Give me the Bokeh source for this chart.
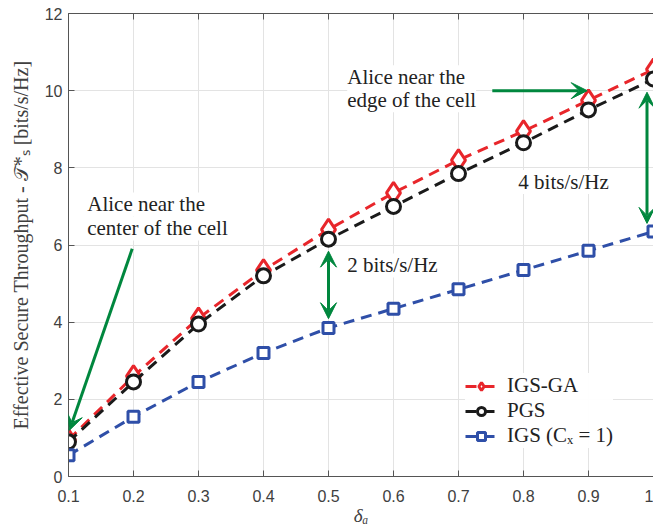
from bokeh.plotting import figure
from bokeh.models import (FixedTicker, LinearAxis, Arrow, VeeHead, Label, Legend,
                          LegendItem, Range1d, CustomJSTickFormatter)
from bokeh.embed import file_html
from bokeh.resources import INLINE

# ---- data ----
delta_a = [0.1, 0.2, 0.3, 0.4, 0.5, 0.6, 0.7, 0.8, 0.9, 1.0]
igs_ga = [0.95, 2.6, 4.1, 5.35, 6.4, 7.35, 8.2, 8.95, 9.75, 10.55]
pgs = [0.9, 2.45, 3.95, 5.2, 6.15, 7.0, 7.85, 8.65, 9.5, 10.3]
igs_cx1 = [0.55, 1.55, 2.45, 3.2, 3.85, 4.35, 4.85, 5.35, 5.85, 6.35]
series_names = ["IGS-GA", "PGS", "IGS (Cₓ = 1)"]

x_ticks = [0.1, 0.2, 0.3, 0.4, 0.5, 0.6, 0.7, 0.8, 0.9, 1.0]
x_tick_labels = ["0.1", "0.2", "0.3", "0.4", "0.5", "0.6", "0.7", "0.8", "0.9", "1"]
y_ticks = [0, 2, 4, 6, 8, 10, 12]
y_tick_labels = ["0", "2", "4", "6", "8", "10", "12"]

# annotations (data coordinates)
center_arrow = dict(x_start=0.198, y_start=5.9, x_end=0.1015, y_end=1.2)
edge_arrow = dict(x_start=0.752, y_start=10.0, x_end=0.898, y_end=10.0)
gap2_arrow = dict(x_start=0.5, y_start=5.84, x_end=0.5, y_end=4.09)
gap4_arrow = dict(x_start=0.99, y_start=9.96, x_end=0.99, y_end=6.56)

RED = "#e8262b"
BLACK = "#1a1a1a"
BLUE = "#2f4fa8"
GREEN = "#00873e"
SERIF = "Liberation Serif"
SANS = "Liberation Sans"

p = figure(width=653, height=532, x_range=Range1d(0.1, 1.0), y_range=Range1d(0, 12),
           output_backend="svg", toolbar_location=None,
           min_border_left=68, min_border_right=0, min_border_top=13, min_border_bottom=56)
p.outline_line_color = None
p.background_fill_color = "white"
p.border_fill_color = "white"

# axes
for ax in (p.xaxis[0], p.yaxis[0]):
    ax.major_tick_in = 6
    ax.major_tick_out = 0
    ax.minor_tick_in = 0
    ax.minor_tick_out = 0
    ax.axis_line_color = "#555555"
    ax.major_tick_line_color = "#555555"
    ax.major_label_text_font = SANS
    ax.major_label_text_font_size = "16px"
    ax.major_label_text_color = "#404040"
    ax.axis_label_text_font = SERIF
    ax.axis_label_text_font_style = "normal"
    ax.axis_label_text_color = "#404040"

p.xaxis.ticker = FixedTicker(ticks=x_ticks)
p.xaxis.major_label_overrides = {t: l for t, l in zip(x_ticks, x_tick_labels)}
p.yaxis.ticker = FixedTicker(ticks=y_ticks)
p.yaxis.major_label_overrides = {t: l for t, l in zip(y_ticks, y_tick_labels)}
p.xaxis.major_label_standoff = 13
p.yaxis.major_label_standoff = 6
p.xaxis.axis_label = "δₐ"
p.xaxis.axis_label_text_font_size = "19px"
p.xaxis.axis_label_text_font_style = "italic"
p.xaxis.axis_label_standoff = 0
p.yaxis.axis_label = "Effective Secure Throughput - 𝒯*ₛ [bits/s/Hz]"
p.yaxis.axis_label_text_font_size = "20px"
p.yaxis.axis_label_standoff = 10

top = LinearAxis(ticker=FixedTicker(ticks=x_ticks),
                 formatter=CustomJSTickFormatter(code="return ''"),
                 major_tick_in=6, major_tick_out=0, minor_tick_in=0, minor_tick_out=0,
                 axis_line_color="#555555", major_tick_line_color="#555555",
                 major_label_standoff=0, major_label_text_font_size="1px")
p.add_layout(top, "above")

p.xgrid.ticker = FixedTicker(ticks=x_ticks)
p.ygrid.ticker = FixedTicker(ticks=y_ticks)
p.grid.grid_line_color = "#e3e3e3"
p.grid.grid_line_width = 1

dash = "11 7"
l1 = p.line(delta_a, igs_ga, line_color=RED, line_width=3, line_dash=dash)
m1 = p.scatter(delta_a, igs_ga, marker="diamond", size=21, line_color=RED, line_width=3,
               fill_color="white")
l2 = p.line(delta_a, pgs, line_color=BLACK, line_width=3, line_dash=dash)
m2 = p.scatter(delta_a, pgs, marker="circle", size=14, line_color=BLACK, line_width=3,
               fill_color="white")
l3 = p.line(delta_a, igs_cx1, line_color=BLUE, line_width=3, line_dash=dash)
m3 = p.scatter(delta_a, igs_cx1, marker="square", size=11, line_color=BLUE, line_width=3,
               fill_color="white")

# annotations
def label(x, y, text):
    p.add_layout(Label(x=x, y=y, text=text, text_font=SERIF, text_font_size="21px",
                       text_baseline="middle", text_align="left", text_color="#222222",
                       background_fill_color="white"))

label(0.1288, 7.05, "Alice near the")
label(0.1288, 6.43, "center of the cell")
label(0.5288, 10.35, "Alice near the")
label(0.5288, 9.75, "edge of the cell")
label(0.5288, 5.47, "2 bits/s/Hz")
label(0.792, 7.63, "4 bits/s/Hz")

def head():
    return VeeHead(size=16, fill_color=GREEN, line_color=GREEN, line_width=1)

p.add_layout(Arrow(end=head(), line_color=GREEN, line_width=3, **center_arrow))
p.add_layout(Arrow(end=head(), line_color=GREEN, line_width=3, **edge_arrow))
p.add_layout(Arrow(start=head(), end=head(), line_color=GREEN, line_width=3, **gap2_arrow))
p.add_layout(Arrow(start=head(), end=head(), line_color=GREEN, line_width=3, **gap4_arrow))

legend = Legend(items=[LegendItem(label=series_names[0], renderers=[l1, m1]),
                       LegendItem(label=series_names[1], renderers=[l2, m2]),
                       LegendItem(label=series_names[2], renderers=[l3, m3])],
                location=(397, 28), background_fill_color="white", border_line_color=None,
                label_text_font=SERIF, label_text_font_size="21px", label_text_color="#222222",
                glyph_width=32, glyph_height=20, spacing=0, padding=6, margin=0,
                label_standoff=10)
p.add_layout(legend, "center")

open("out.html", "w").write(file_html(p, INLINE))
